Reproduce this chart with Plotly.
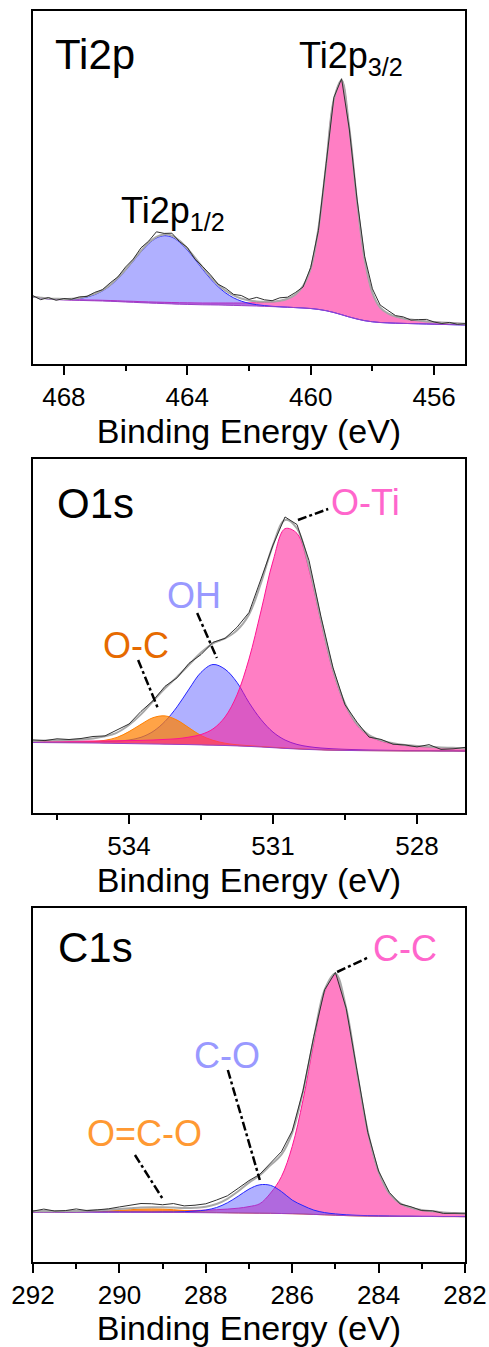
import numpy as np
import plotly.graph_objects as go

# ---------------- Ti 2p ----------------
E_ti = np.linspace(469.0, 455.0, 57)
bg_ti = [67, 66, 65, 64.5, 64, 63.8, 63.6, 63.4, 63.2, 63, 62.7, 62.4, 62,
         61.7, 61.3, 61, 60.7, 60.4, 60.1, 59.8, 59.6, 59.4, 59.2, 59.1, 59,
         58.8, 58.6, 58.4, 58.2, 58, 57.7, 57.4, 57.1, 56.8, 56.4, 56, 55.5,
         54.6, 53.3, 51.5, 49.3, 47, 45, 43.3, 42.2, 41.5, 41.1, 40.8, 40.6,
         40.4, 40.2, 40, 39.8, 39.6, 39.4, 39.2, 39]
ti2p12 = [0, 0, 0.1, 0.3, 0.5, 1.0, 1.9, 3.6, 6.2, 10.1, 15.6, 22.9, 31.6,
          41.2, 50.9, 59.3, 65.3, 67.9, 66.8, 62.0, 54.4, 45.2, 35.4, 26.2, 18.3,
          12.1, 7.6, 4.5, 2.5, 1.3, 0.7, 0.3, 0.1,
          0, 0, 0, 0, 0, 0, 0, 0, 0, 0, 0, 0, 0, 0, 0, 0, 0, 0, 0, 0, 0, 0, 0, 0]
ti2p32 = [0.3, 0.3, 0.4, 0.4, 0.5, 0.5, 0.6, 0.6, 0.7, 0.7, 0.8, 0.8, 0.9,
          1.0, 1.0, 1.1, 1.2, 1.3, 1.4, 1.5, 1.6, 1.7, 1.8, 1.9, 2.0,
          2.2, 2.4, 2.6, 2.9, 3.3, 3.8, 4.6, 6.0, 8.5, 13.0, 22.0, 40.0,
          81.0, 146.0, 213.0, 234.5, 189.0, 118.0, 61.0, 29.0, 15.0, 9.5, 6.6, 5.0,
          4.0, 3.2, 2.6, 2.2, 1.9, 1.7, 1.5, 1.3]
resid_ti = [1, -2, 1, -1.5, 0.5, -0.5, 1, 0, 1.5, 0.5, 2, 1, 2.5,
            1, 3, 1.5, 5, 1, 2.5, -1, 1, -1.5, 1, 2, 0.5,
            2.5, 1, 3, 1, 4, 2, 1, 3, 1.5, 2, -1, 1,
            -2, 1, 2, 1.5, -1, 2, 3, 4, 2.5, 3, 1, 1.5,
            -0.5, 1, 2, 0, -1, 0.5, -1, 0]

# ---------------- O 1s ----------------
E_o = np.linspace(536.0, 527.0, 37)
bg_o = [70.5, 70.4, 70.3, 70.2, 70.1, 70.0, 69.8, 69.6, 69.4, 69.2, 69.0, 68.8,
        68.6, 68.4, 68.1, 67.8, 67.5, 67.1, 66.6, 66.0, 65.3, 64.6, 64.0, 63.5,
        63.1, 62.8, 62.6, 62.4, 62.3, 62.2, 62.1, 62.0, 62.0, 62.0, 61.9, 61.9, 61.8]
o_ti = [1.2, 1.4, 1.6, 1.7, 1.8, 2.0, 2.3, 2.6, 3.0, 3.4, 4.0, 4.8,
        5.7, 7.5, 10.4, 16.3, 28.5, 51.0, 87.4, 136.0, 186.6, 219.7, 215.6, 180.0,
        128.0, 79.0, 45.5, 25.4, 14.8, 9.7, 7.1, 5.5, 4.6, 3.9, 3.3, 2.9, 2.5]
o_h = [0.3, 0.4, 0.5, 0.6, 0.8, 1.1, 1.6, 2.2, 3.6, 6.5, 12.5, 22.8,
       37.5, 55.5, 72.5, 80.7, 76.3, 63.5, 43.8, 27.5, 15.6, 8.4, 4.6, 2.8,
       1.9, 1.4, 1.1, 0.9, 0.7, 0.6, 0.5, 0.45, 0.4, 0.35, 0.3, 0.25, 0.2]
o_c = [0.1, 0.2, 0.3, 0.5, 0.8, 1.4, 2.9, 6.0, 12.0, 19.5, 26.3, 28.3,
       24.3, 16.8, 9.4, 4.9, 2.3, 1.1, 0.7, 0.5, 0.4, 0.35, 0.3, 0.25,
       0.2, 0.1, 0.1, 0.1, 0.1, 0.1, 0.1, 0.1, 0.1, 0.1, 0.1, 0.1, 0.1]
resid_o = [1, 0, 1.5, 0.5, 1, 2, 0.5, 2.5, 1, 3, 0.5, 2,
           -1, 1.5, -2, 1, 0, 3, 2, 4, 0, 3, 4, 6,
           3, 2, -1, 2, -2, 1, -1, 0, -1, 2, -2, -1, 1]

# ---------------- C 1s ----------------
E_c = np.linspace(292.0, 282.0, 41)
bg_c = [50.0, 50.0, 50.0, 49.9, 49.9, 49.9, 49.8, 49.8, 49.8, 49.7, 49.7, 49.6, 49.6,
        49.5, 49.5, 49.4, 49.3, 49.2, 49.1, 49.0, 48.9, 48.8, 48.7, 48.5, 48.3,
        48.0, 47.6, 47.2, 46.8, 46.4, 46.1, 45.9, 45.8, 45.7, 45.6, 45.6, 45.5,
        45.5, 45.4, 45.4, 45.3]
c_c = [0.8, 0.8, 0.9, 0.9, 1.0, 1.0, 1.1, 1.1, 1.2, 1.2, 1.3, 1.3, 1.4,
       1.6, 1.8, 2.1, 2.5, 3.1, 3.8, 4.8, 6.5, 9.5, 20.3, 36.8, 67.2,
       113.9, 171.7, 222.8, 240.5, 206.5, 143.4, 84.3, 44.2, 22.5, 12.7, 8.4, 6.2,
       5.0, 4.1, 3.4, 2.9]
c_o = [0.1, 0.1, 0.1, 0.1, 0.15, 0.15, 0.2, 0.2, 0.25, 0.3, 0.3, 0.35, 0.45,
       0.55, 0.8, 1.5, 2.7, 5.3, 10.1, 16.8, 24.0, 28.4, 27.9, 22.0, 13.6,
       8.4, 4.3, 2.2, 1.3, 0.8, 0.6, 0.45, 0.35, 0.3, 0.25, 0.2, 0.2,
       0.15, 0.1, 0.1, 0.1]
oco = [0, 0, 0, 0, 0, 0.3, 0.6, 1.1, 1.8, 2.6, 3.2, 3.5, 3.3,
       2.8, 2.0, 1.3, 0.7, 0.4, 0.2, 0.1, 0, 0, 0, 0, 0,
       0, 0, 0, 0, 0, 0, 0, 0, 0, 0, 0, 0, 0, 0, 0, 0]
resid_c = [0, 2, 0, 0.5, 2, 0, 0.5, 1, 2, 3, 4, 3.5, 2.5,
           4, 2, 2.5, 3, 4, 3, 3, 2, 1, 2, 3, 2,
           1, 2, 0, 1, 0, 1.5, -1, 0.5, 1, -0.5, 1, -0.5,
           0.5, -1, 0, 0.5]

for a, n in [(bg_ti, 57), (ti2p12, 57), (ti2p32, 57), (resid_ti, 57),
             (bg_o, 37), (o_ti, 37), (o_h, 37), (o_c, 37), (resid_o, 37),
             (bg_c, 41), (c_c, 41), (c_o, 41), (oco, 41), (resid_c, 41)]:
    assert len(a) == n, (len(a), n)

x_title = "Binding Energy (eV)"

PINK_F, PINK_L = "rgba(255,20,147,0.55)", "#FF1493"
BLUE_F, BLUE_L = "rgba(80,80,255,0.45)", "#2525FF"
ORNG_F, ORNG_L = "rgba(255,128,0,0.72)", "#FF8000"

W, H = 489, 1347
XL, XR = 33, 465
def py(px):
    return 1 - px / H

fig = go.Figure()

def panel(k, E, bg, comps, resid):
    xa, ya = ("x", "y") if k == 1 else (f"x{k}", f"y{k}")
    bg = np.array(bg, float)
    env = bg.copy()
    for vals, fc, lc in comps:
        v = np.array(vals, float)
        env += v
        fig.add_trace(go.Scatter(x=E, y=bg, xaxis=xa, yaxis=ya, mode="lines",
                                 line=dict(width=0, shape="spline"), hoverinfo="skip",
                                 showlegend=False))
        fig.add_trace(go.Scatter(x=E, y=bg + v, xaxis=xa, yaxis=ya, mode="lines",
                                 fill="tonexty", fillcolor=fc,
                                 line=dict(color=lc, width=1, shape="spline"),
                                 showlegend=False))
    fig.add_trace(go.Scatter(x=E, y=bg, xaxis=xa, yaxis=ya, mode="lines",
                             line=dict(color="#9A40C8", width=1, shape="spline"),
                             showlegend=False))
    fig.add_trace(go.Scatter(x=E, y=env, xaxis=xa, yaxis=ya, mode="lines",
                             line=dict(color="#A8A8A8", width=2, shape="spline"),
                             showlegend=False))
    fig.add_trace(go.Scatter(x=E, y=env + np.array(resid, float), xaxis=xa, yaxis=ya,
                             mode="lines", line=dict(color="#303030", width=1),
                             showlegend=False))

panel(1, E_ti, bg_ti, [(ti2p32, PINK_F, PINK_L), (ti2p12, BLUE_F, BLUE_L)], resid_ti)
panel(2, E_o, bg_o, [(o_h, BLUE_F, BLUE_L), (o_c, ORNG_F, ORNG_L), (o_ti, PINK_F, PINK_L)], resid_o)
panel(3, E_c, bg_c, [(c_c, PINK_F, PINK_L), (oco, ORNG_F, ORNG_L), (c_o, BLUE_F, BLUE_L)], resid_c)

FONT = "Arial, Liberation Sans, sans-serif"

def xax(rng, dtick, tick0, minor, anchor):
    return dict(range=rng, domain=[XL / W, XR / W], anchor=anchor, automargin=False,
                showline=True, linecolor="black", linewidth=2, mirror=True,
                ticks="outside", ticklen=9, tickwidth=2, tickcolor="black",
                dtick=dtick, tick0=tick0,
                minor=dict(dtick=minor, tick0=tick0, ticks="outside", ticklen=5,
                           tickwidth=2, tickcolor="black"),
                showgrid=False, zeroline=False,
                tickfont=dict(family=FONT, size=26, color="black"),
                title=dict(text=x_title, standoff=4,
                           font=dict(family=FONT, size=34, color="black")))

def yax(dom, rng, anchor):
    return dict(domain=dom, range=rng, anchor=anchor, automargin=False,
                showline=True, linecolor="black",
                linewidth=2, mirror=True, ticks="", showticklabels=False,
                showgrid=False, zeroline=False)

fig.update_layout(
    width=W, height=H, margin=dict(l=0, r=0, t=0, b=0, autoexpand=False),
    paper_bgcolor="white", plot_bgcolor="white", showlegend=False,
    xaxis=xax([469, 455], 4, 456, 2, "y"),
    yaxis=yax([py(364), py(11)], [0, 353], "x"),
    xaxis2=xax([536, 527], 3, 528, 1.5, "y2"),
    yaxis2=yax([py(813), py(459)], [0, 354], "x2"),
    xaxis3=xax([292, 282], 2, 282, 1, "y3"),
    yaxis3=yax([py(1262), py(908)], [0, 354], "x3"),
)

titles = [("Ti2p", 55), ("O1s", 503), ("C1s", 947)]
for t, ypx in titles:
    fig.add_annotation(text=t, x=95 / W, y=py(ypx), xref="paper", yref="paper",
                       showarrow=False, xanchor="center", yanchor="middle",
                       font=dict(family=FONT, size=42, color="black"))

labels = [
    ("x", "y", "Ti2p<sub>3/2</sub>", 458.69, 306, "black"),
    ("x", "y", "Ti2p<sub>1/2</sub>", 464.46, 151, "black"),
    ("x2", "y2", "O-Ti", 529.08, 310, "#FF66CC"),
    ("x2", "y2", "OH", 532.64, 218, "#9999FF"),
    ("x2", "y2", "O-C", 533.85, 168, "#E66A00"),
    ("x3", "y3", "C-C", 283.39, 314, "#FF66CC"),
    ("x3", "y3", "C-O", 287.50, 207, "#9999FF"),
    ("x3", "y3", "O=C-O", 289.43, 129, "#FF9933"),
]
for xr, yr, t, xv, yv, col in labels:
    fig.add_annotation(text=t, x=xv, y=yv, xref=xr, yref=yr, showarrow=False,
                       xanchor="center", yanchor="middle",
                       font=dict(family=FONT, size=36, color=col))

leaders = [
    ("x2", "y2", 530.48, 293, 529.85, 304),
    ("x2", "y2", 532.58, 200, 532.17, 155),
    ("x2", "y2", 533.81, 153, 533.40, 105),
    ("x3", "y3", 284.96, 290, 284.22, 305),
    ("x3", "y3", 287.49, 192, 286.75, 82),
    ("x3", "y3", 289.64, 107, 289.01, 64),
]
for xr, yr, x0, y0, x1, y1 in leaders:
    fig.add_shape(type="line", xref=xr, yref=yr, x0=x0, y0=y0, x1=x1, y1=y1,
                  line=dict(color="black", width=2.5, dash="dashdot"))

fig.write_html("out.html")
